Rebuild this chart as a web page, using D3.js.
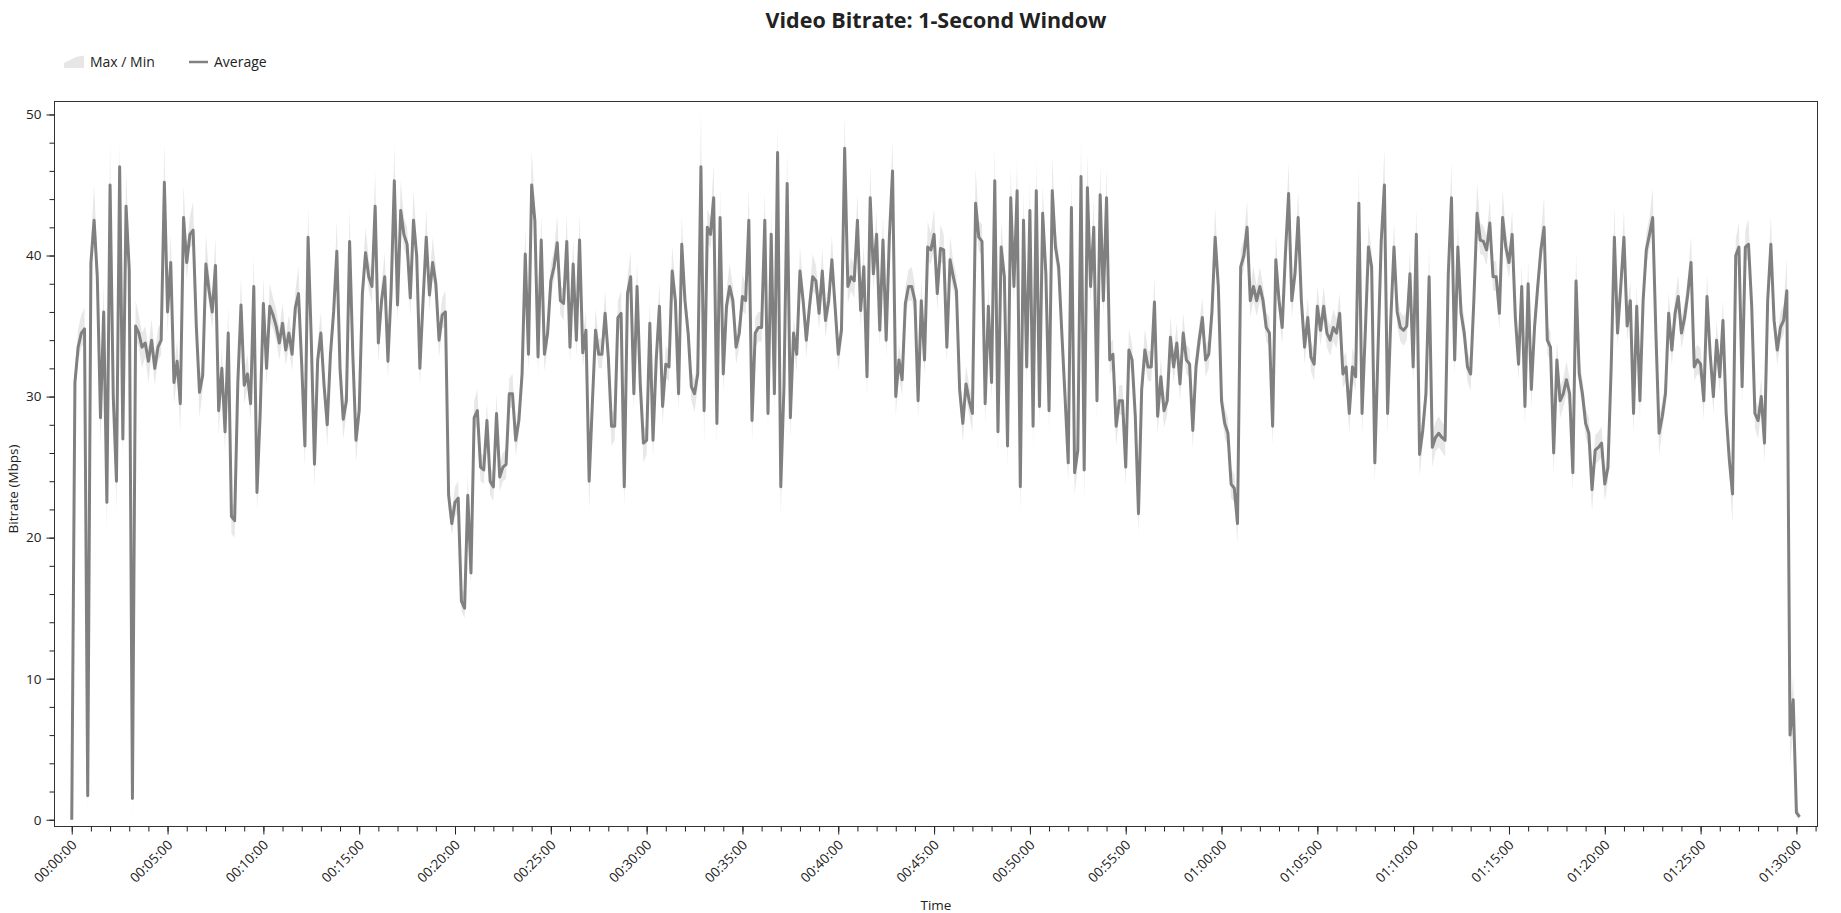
<!DOCTYPE html>
<html><head><meta charset="utf-8">
<script src="https://cdn.jsdelivr.net/npm/d3@7/dist/d3.min.js"></script>
<style>
body{margin:0;background:#fff;}
svg text{font-family:"Open Sans","Noto Sans",sans-serif;fill:#222;}
</style></head><body>
<svg id="chart" width="1841" height="913"></svg>
<script>
// ---- data ----
const sampleStepSeconds = 10;   // one sample every 10 s, starting at 00:00:00

const averageMbps = [
0,31,33.5,34.5,34.8,1.7, 39.5,42.5,38.5,28.5,36,22.5, 45,30,24,46.3,27,43.5, 39,1.5,35,34.5,33.5,33.8,
32.5,34,32,33.5,34,45.2, 36,39.5,31,32.5,29.5,42.7, 39.5,41.5,41.8,35,30.3,31.5, 39.4,37.5,36,39.3,29,32,
27.5,34.5,21.5,21.2,31,36.5, 30.8,31.6,29.5,37.8,23.2,28.8, 36.6,32,36.4,35.8,35,33.8, 35.2,33.3,34.5,33,36.3,37.3,
32.3,26.5,41.3,34,25.2,32.6, 34.5,30.8,28,33,36,40.3, 32,28.4,29.7,41,33,26.9, 29,37.3,40.2,38.5,37.8,43.5,
33.8,36.8,38.5,32.5,37.5,45.3, 36.5,43.2,41.5,40.8,37,42.5, 40,32,36.8,41.3,37.2,39.5, 38,34,35.8,36,23,21,
22.5,22.8,15.5,15,23,17.5, 28.5,29,25,24.8,28.3,24,
23.6,28.8,24.3,25.0,25.2,30.2, 30.2,26.9,28.3,31.6,40.1,33, 45.0,42.5,32.8,41.1,33.0,34.5, 38.2,39.2,40.9,36.8,36.6,41.0,
33.5,39.4,34.0,41.1,33.1,34.7, 24.0,29.5,34.7,33.0,33.0,35.9, 32.8,27.9,27.9,35.6,35.9,23.6, 37.3,38.5,30.2,37.8,30.9,26.7,
26.9,35.2,26.9,32.6,36.4,29.3, 32.3,32.1,38.9,36.8,30.2,40.8, 36.8,34.5,30.7,30.2,31.6,46.3, 29.0,42.0,41.5,44.1,28.1,42.7,
31.6,36.4,37.8,36.8,33.5,34.5, 37.1,36.8,42.5,28.3,34.5,34.9, 34.9,42.5,28.8,41.5,30.2,47.3, 23.6,30.7,45.1,28.5,34.5,33.0,
38.9,36.8,34.0,36.4,38.5,38.2, 35.9,38.9,35.4,36.8,39.7,36.4, 33.0,34.7,47.6,37.8,38.5,38.2, 42.5,36.1,39.2,31.4,44.1,38.7,
41.5,34.7,41.1,34.0,41.3,46.0, 30.0,32.6,31.2,36.6,37.8,37.8, 36.8,29.7,36.8,32.6,40.6,40.4,
41.5,37.3,40.5,40.4,33.5,39.7, 38.5,37.5,30.5,28.1,30.9,29.7, 28.8,43.7,41.3,41.0,29.5,36.4, 31.0,45.3,27.5,40.6,38.5,26.5,
44.1,37.8,44.6,23.6,42.5,32.1, 43.2,27.9,44.6,29.3,43.0,38.7, 29.0,44.6,40.6,39.2,34.5,30.0, 25.3,43.4,24.6,26.2,45.6,24.8,
44.8,37.8,42.0,29.7,44.3,36.8, 44.1,32.6,33.0,27.9,29.7,29.7, 25.0,33.3,32.6,28.6,21.7,30.5, 33.3,32.1,32.1,36.7,28.6,31.4,
29.0,29.7,34.2,32.1,33.8,30.9, 34.5,32.6,32.3,27.6,32.1,34.0, 35.6,32.6,33.0,36.0,41.3,37.8, 29.7,28.1,27.4,23.8,23.5,21.0,
39.2,40.0,42.0,36.8,37.8,36.8, 37.8,36.8,34.9,34.5,27.9,39.7, 36.8,34.9,40.1,44.4,36.8,38.7, 42.7,36.8,33.5,35.6,32.8,32.3,
36.4,34.7,36.4,34.5,34.0,34.9, 34.5,35.9,31.6,32.1,28.8,32.1, 31.4,43.7,28.8,34.5,40.6,39.2,
25.3,33.3,41.0,45.0,28.8,35.5, 40.6,36.0,34.9,34.7,35.0,38.7, 32.1,41.5,25.9,27.6,30.2,38.5, 26.4,27.1,27.4,27.1,26.9,38.7,
44.1,32.6,40.6,35.9,34.5,32.1, 31.6,36.8,43.0,41.1,41.0,40.4, 42.3,38.5,38.5,35.9,42.7,40.6, 39.5,41.5,35.6,32.3,37.8,29.3,
38.0,30.5,34.9,37.8,40.4,42.0, 34.0,33.5,26.0,32.6,29.7,30.2, 31.2,30.2,24.6,38.2,31.6,30.2, 28.1,27.4,23.4,26.2,26.4,26.7,
23.8,25.0,32.1,41.3,34.5,37.8, 41.3,35.0,36.8,28.8,36.4,29.7, 36.8,40.4,41.5,42.7,34.5,27.4, 28.6,30.2,35.9,33.3,35.9,37.1,
34.5,35.6,37.3,39.5,32.1,32.6, 32.3,29.7,37.1,33.0,30.0,34.0, 31.4,35.4,28.8,25.5,23.1,40.0, 40.6,30.7,40.6,40.8,36.4,28.8,
28.3,30.0,26.7,36.8,40.8,35.4, 33.3,34.9,35.4,37.5,6.0,8.5, 0.5,0.2
];

const maxMbps = [
0.3,32,34.8,35.8,36.3,2.5, 41,45,40,29.5,38,23.5, 48,31,25,48.2,28,46, 40.5,2.5,36.8,35.8,34.5,35,
33.5,35.5,33,34.8,35.3,48, 37,41.5,32,34,30.5,45, 40.5,42.8,43.8,36.2,31.3,32.7, 41.5,38.7,37,41.3,30,33.5,
28.5,36.5,22.5,22.2,32.2,38.5, 31.8,33,30.5,40,24.2,30, 38.5,33,38,37,36.2,34.8, 36.6,34.3,35.8,34,37.5,39.2,
33.3,27.5,43.5,35.2,26.2,33.8, 36,31.8,29,34.2,37.2,42.5, 33,29.4,30.9,43.3,34.2,27.9, 30.2,38.5,42,39.7,38.8,46,
34.8,38,40.2,33.5,38.7,47.8, 37.5,45.3,42.7,42,38,44.6, 41.2,33,38,43.3,38.2,41.3, 39.2,35,37,37.5,24,22,
23.6,24,16.5,16,24.5,18.5, 29.7,30.5,26,25.8,29.6,25,
24.6,30.2,25.3,26,26.3,31.3, 31.6,27.9,29.4,32.8,42,34, 47.5,43.7,33.8,43,34,35.7, 39.4,40.4,42.8,37.9,37.6,42.9,
34.5,41.2,35,43,34.2,36.1, 25,30.7,36.2,34.1,34.1,37.5, 33.9,28.9,29,36.8,37.5,24.6, 38.5,40.3,31.2,39.6,31.9,27.7,
28,36.8,27.9,33.8,38.1,30.3, 33.6,33.2,40.7,37.9,31.2,42.8, 37.9,35.6,31.8,31.2,32.8,50.3, 30,43.3,42.7,46.5,29.1,44.8,
32.6,37.6,39.4,37.9,34.5,35.6, 38.7,37.9,44.8,29.3,35.6,36, 36,44.6,29.8,43.5,31.2,49.5, 24.6,31.8,47.5,29.5,35.6,34,
40.6,37.9,35,37.5,40.1,39.3, 36.9,40.5,36.4,37.9,41.4,37.5, 34,35.8,50,38.8,39.9,39.2, 44.4,37.1,40.8,32.4,46.4,39.7,
43.2,35.7,42.9,35,42.5,48.2, 31,33.7,32.2,37.7,39,39.2, 37.9,30.7,38.4,33.6,42.4,41.6,
43.3,38.3,42.2,41.5,34.5,41.4, 39.6,38.6,31.6,29.1,32.2,30.8, 29.8,46.2,42.5,42.2,30.5,38, 32,47.8,28.5,42.4,39.6,27.5,
46.3,38.8,46.8,24.6,44.5,33.1, 45.3,28.9,46.8,30.3,45,39.8, 30,47,41.8,40.3,35.6,31.1, 26.3,45.6,25.6,27.3,48.5,25.8,
47.2,38.8,44,30.7,46.5,37.8, 46.2,33.7,34.1,28.9,30.8,30.8, 26,34.8,33.7,29.7,22.7,31.6, 34.8,33.2,33.3,38.5,29.6,32.7,
30,30.8,35.7,33.1,35.2,31.9, 35.9,33.7,33.4,28.6,33.2,35.1, 37,33.6,34.1,37.2,43.4,38.9, 30.8,29.2,28.5,24.9,24.5,22,
40.4,41.2,43.9,37.8,39.2,37.8, 39.2,37.9,36,35.6,28.9,41.5, 37.9,35.9,41.3,46.6,37.8,39.8, 44.6,37.9,34.5,37,33.9,33.3,
37.9,35.7,37.8,35.6,35,36.2, 35.5,37.3,32.7,33.2,29.8,33.5, 32.5,46.2,29.8,35.6,42.3,40.3,
26.3,34.4,42.2,47.6,29.8,36.6, 42.4,37.1,36,35.7,36.1,40.4, 33.1,43.5,26.9,28.7,31.3,40.6, 27.4,28.2,28.6,28.2,27.9,39.9,
46.6,33.6,42.3,37,35.6,33.2, 32.6,37.9,45.2,42.3,42.1,41.4, 44,39.6,39.6,36.9,44.7,41.7, 40.5,43.2,36.7,33.3,39.4,30.3,
39.7,31.5,36,38.9,41.6,44.2, 35.1,34.6,27,34,30.7,31.3, 32.5,31.3,25.6,40.2,32.7,31.3, 29.2,28.5,24.4,27.3,27.5,27.9,
24.8,26.1,33.2,43.5,35.5,38.9, 43.2,36.1,38.2,29.8,37.9,30.7, 37.9,41.6,42.7,44.8,35.6,28.4, 29.7,31.3,37.4,34.3,37,38.6,
35.5,36.7,38.4,41.4,33.2,33.7, 33.4,30.7,38.7,34.1,31,35.4, 32.4,36.9,29.9,26.6,24.1,41.2, 42.3,31.7,41.8,42.6,37.5,29.9,
29.3,31.3,27.7,37.9,42.8,36.5, 34.3,36,36.5,39.8,7,10.3, 1.2,0.4
];

const minMbps = [
0,30,32.5,33.5,33.8,0.3, 38,41,37,26.5,35,20.5, 44,29,22,45,25.5,42.5, 38,0,34,33.5,32,32.8,
31,33,30.8,32.5,33,44, 34.5,38.5,29.5,31.5,27.5,41.5, 38.3,40.5,40.8,34,28.5,30.5, 38.4,36.5,34.8,38.3,27.3,31,
26,33.5,20.3,20,30,35.5, 29.5,30.6,28.3,36.8,21.8,27.8, 35.6,30.8,35.4,34.8,34,32.6, 34.2,32.2,33.5,31.8,35.3,36.3,
31.2,25,40.3,33,23.5,31.6, 33.5,29.8,26.5,32,35,39.3, 31,27,28.7,40,32,25.3, 28,36.3,39.2,37.5,36.6,42.5,
32.4,35.8,37.5,31.2,36.5,44.3, 35.2,42.2,40.5,39.8,35.7,41.5, 39,30.7,35.8,40.3,36,38.5, 37,32.8,34.8,35,22,20.2,
21.5,21.8,14.8,14.3,22,16.5, 27.5,28,24,23.8,27.3,23,
22.6,27.8,23.3,24,24.2,29.2, 29.2,25.8,27.3,30.6,39.1,31.8, 44,41.5,31.5,40.1,31.8,33.5, 37.2,38.2,39.9,35.8,35.4,40,
32.3,38.4,32.8,40.1,32.1,33.7, 22,28.5,33.7,32,32,34.9, 31.8,26.5,26.9,34.6,34.9,22, 36.3,37.5,29,36.8,29.9,25.3,
25.9,34.2,25.5,31.6,35.4,28, 31.3,31.1,37.9,35.8,28.9,39.8, 35.8,33.5,29.7,28.9,30.6,45.3, 26.6,41,40.5,43.1,26.5,41.7,
30.3,35.4,36.8,35.8,32.3,33.5, 36.1,35.8,41.5,26.8,33.5,33.9, 33.9,41.5,27.5,40.5,28.9,46.3, 21.5,29.7,44.1,27,33.5,31.8,
37.9,35.8,32.8,35.4,37.5,37.2, 34.7,37.9,34.2,35.8,38.7,35.4, 31.8,33.7,46.6,36.6,37.5,37, 41.5,34.9,38.2,30,43.1,37.5,
40.5,33.5,40.1,32.8,40.3,45, 28.6,31.6,30,35.6,36.8,36.8, 35.8,28.3,35.8,31.4,39.6,39.4,
40.5,36.1,39.5,39.4,32.3,38.7, 37.5,36.5,29.5,26.8,29.9,28.7, 27.5,42.7,40.3,40,28,35.4, 29.7,44.3,25.8,39.6,37.5,25,
43.1,36.6,43.6,21.5,41.5,30.8, 42.2,26.3,43.6,27.9,42,37.7, 27.5,43.6,39.6,38.2,33.5,29, 23.8,42.4,23,25.2,44.6,22.5,
43.8,36.6,41,28.3,43.3,35.6, 43.1,31.6,32,26.5,28.7,28.7, 23.6,32.3,31.6,27.6,20.3,29.5, 32.3,31.1,31.1,35.7,27.3,30.4,
27.8,28.7,33.2,31,32.8,29.7, 33.5,31.6,31.3,26.3,31.1,33, 34.6,31.4,32,35,40.3,36.8, 28.7,27.1,26.4,22.8,22.5,19.6,
38.2,39,41,35.6,36.8,35.7, 36.8,35.8,33.9,33.5,26.5,38.7, 35.8,33.7,39.1,43.4,35.6,37.7, 41.7,35.8,32.3,34.6,31.8,31.1,
35.4,33.6,35.4,33.5,32.9,33.9, 33.4,34.9,30.6,31.1,27.4,31.1, 30.4,42.7,27.3,33.5,39.6,38.2,
23.8,32.3,40,44,27.2,34.5, 39.6,35,33.9,33.6,34,37.7, 30.9,40.5,24.3,26.6,29.2,37.5, 25,26.1,26.4,26.1,25.7,37.7,
43.1,31.4,39.6,34.9,33.5,31.1, 30.4,35.8,42,40.1,40,39.3, 41.3,37.5,37.5,34.7,41.7,39.6, 38.4,40.5,34.6,31.1,36.8,27.9,
37,29.2,33.9,36.8,39.4,41, 33,32.5,24.5,31.6,28.5,29.2, 30.2,29.2,23.2,37.2,30.6,29.2, 27.1,26.4,21.8,25.2,25.4,25.7,
22.6,24,31.1,40.3,33.4,36.8, 40.3,34,35.8,27.4,35.4,28.4, 35.8,39.4,40.5,41.7,33.5,25.9, 27.6,29.2,34.9,32.2,34.9,36.1,
33.4,34.6,36.3,38.5,31.1,31.6, 31.3,28.4,36.1,32,28.8,33, 30.3,34.4,27.8,24.5,21,39, 39.6,29.4,39.6,39.8,35.4,27.8,
27,29,25.3,35.8,39.8,34.4, 32.2,33.9,34.4,36.5,3.8,6.5, 0.2,0
];

const yTickValues = [0, 10, 20, 30, 40, 50];
const xTickMinutes = [0, 5, 10, 15, 20, 25, 30, 35, 40, 45, 50, 55, 60, 65, 70, 75, 80, 85, 90];
const xTickLabels = ["00:00:00","00:05:00","00:10:00","00:15:00","00:20:00","00:25:00","00:30:00","00:35:00","00:40:00","00:45:00",
                     "00:50:00","00:55:00","01:00:00","01:05:00","01:10:00","01:15:00","01:20:00","01:25:00","01:30:00"];
const chartTitle = "Video Bitrate: 1-Second Window";
const seriesNames = ["Max / Min", "Average"];

// ---- build rows ----
const rows = averageMbps.map((v, i) => ({ t: i * sampleStepSeconds, avg: v, max: maxMbps[i], min: minMbps[i] }));

// ---- layout ----
const plot = { left: 54.5, right: 1817.5, top: 101.5, bottom: 826.5 };
const svg = d3.select("#chart");

const x = d3.scaleLinear().domain([-54, 5466]).range([plot.left, plot.right]);
const y = d3.scaleLinear().domain([-0.48, 50.92]).range([plot.bottom, plot.top]);

svg.append("defs").append("clipPath").attr("id", "clip")
  .append("rect").attr("x", plot.left).attr("y", plot.top)
  .attr("width", plot.right - plot.left).attr("height", plot.bottom - plot.top);

const g = svg.append("g").attr("clip-path", "url(#clip)");

// band
g.append("path").datum(rows)
  .attr("fill", "#e8e8e8")
  .attr("d", d3.area().x(d => x(d.t)).y0(d => y(d.min)).y1(d => y(d.max)));

// average line
g.append("path").datum(rows)
  .attr("fill", "none").attr("stroke", "#808080").attr("stroke-width", 3)
  .attr("stroke-linejoin", "round")
  .attr("d", d3.line().x(d => x(d.t)).y(d => y(d.avg)));

// frame
svg.append("rect").attr("x", plot.left).attr("y", plot.top)
  .attr("width", plot.right - plot.left).attr("height", plot.bottom - plot.top)
  .attr("fill", "none").attr("stroke", "#333").attr("stroke-width", 1);

// ---- y axis ----
const yMinor = d3.range(0, 51, 2);
const yAxisMinor = d3.axisLeft(y).tickValues(yMinor).tickSize(5).tickFormat("");
const yAxisMajor = d3.axisLeft(y).tickValues(yTickValues).tickSize(8).tickPadding(5).tickFormat(d3.format("d"));
const gyMinor = svg.append("g").attr("transform", `translate(${plot.left},0)`).call(yAxisMinor);
const gy = svg.append("g").attr("transform", `translate(${plot.left},0)`).call(yAxisMajor);
[gyMinor, gy].forEach(a => { a.select(".domain").remove(); a.selectAll("line").attr("stroke", "#222"); });
gy.selectAll("text").attr("font-size", 13.5).attr("fill", "#222").style("font-family", "'Open Sans', sans-serif");

// ---- x axis ----
const xMinorMinutes = d3.range(0, 92, 1);
const xAxisMinor = d3.axisBottom(x).tickValues(xMinorMinutes.map(m => m * 60)).tickSize(5).tickFormat("");
const xAxisMajor = d3.axisBottom(x).tickValues(xTickMinutes.map(m => m * 60)).tickSize(8)
  .tickFormat((d, i) => xTickLabels[i]);
const gxMinor = svg.append("g").attr("transform", `translate(0,${plot.bottom})`).call(xAxisMinor);
const gx = svg.append("g").attr("transform", `translate(0,${plot.bottom})`).call(xAxisMajor);
[gxMinor, gx].forEach(a => { a.select(".domain").remove(); a.selectAll("line").attr("stroke", "#222"); });
gx.selectAll("text")
  .attr("font-size", 13.5).attr("fill", "#222").style("font-family", "'Open Sans', sans-serif")
  .attr("text-anchor", "end")
  .attr("x", 0).attr("y", 0).attr("dy", "0.35em")
  .attr("transform", "translate(2,16) rotate(-45)");

// ---- titles ----
svg.append("text").attr("x", (plot.left + plot.right) / 2).attr("y", 28)
  .attr("text-anchor", "middle").attr("font-size", 21.5).attr("font-weight", "bold").attr("fill", "#111")
  .text(chartTitle);

svg.append("text").attr("x", (plot.left + plot.right) / 2).attr("y", 910)
  .attr("text-anchor", "middle").attr("font-size", 13.5).text("Time");

svg.append("text").attr("transform", "translate(18,489) rotate(-90)")
  .attr("text-anchor", "middle").attr("font-size", 13.5).text("Bitrate (Mbps)");

// ---- legend ----
const lg = svg.append("g");
lg.append("path").attr("d", "M64,68 L64,63 L76,57 L84,55.5 L84,68 Z").attr("fill", "#e6e6e6");
lg.append("text").attr("x", 90).attr("y", 67).attr("font-size", 14).text(seriesNames[0]);
lg.append("line").attr("x1", 189).attr("x2", 208).attr("y1", 62).attr("y2", 62)
  .attr("stroke", "#808080").attr("stroke-width", 2.5);
lg.append("text").attr("x", 214).attr("y", 67).attr("font-size", 14).text(seriesNames[1]);
</script>
</body></html>
